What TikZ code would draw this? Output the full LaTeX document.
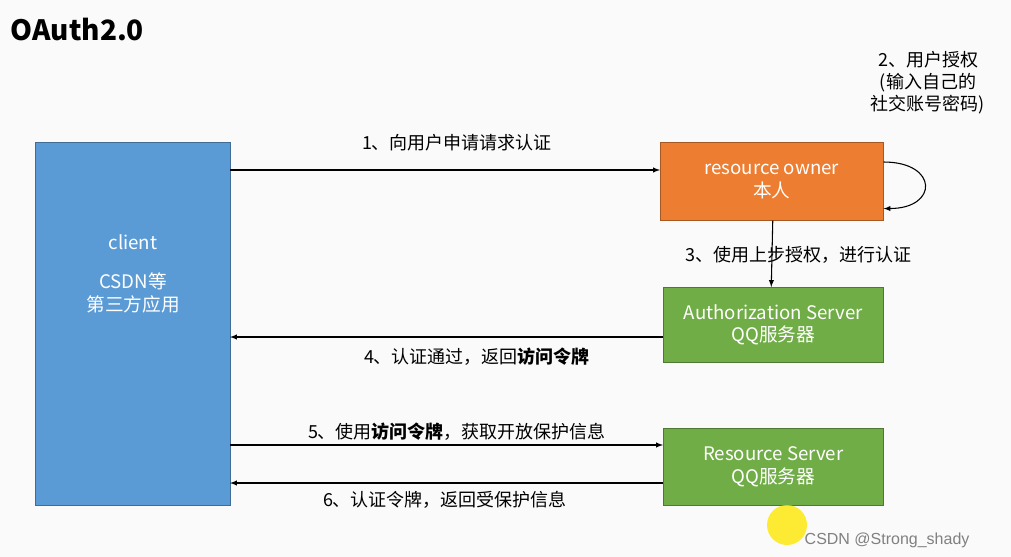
\documentclass[tikz,border=0pt]{standalone}
\usepackage{fontspec}
\setmainfont{Noto Sans CJK SC}
\newfontfamily\lat{Liberation Sans}
\begin{document}
\begin{tikzpicture}[x=0.75pt,y=-0.75pt,
  box/.style={draw=#1!70!black,fill=#1,text=white,font=\fontsize{14}{17}\selectfont,align=center,inner sep=0pt,anchor=north west},
  lab/.style={font=\fontsize{13.5}{16.5}\selectfont,text=black,align=center},
  arr/.style={-latex,thick}]
\useasboundingbox[fill=white!96!gray] (0,0) rectangle (1011,557);
\definecolor{cblue}{HTML}{5B9BD5}\definecolor{corange}{HTML}{ED7D31}\definecolor{cgreen}{HTML}{70AD47}
\node[font=\fontsize{21}{24}\selectfont\bfseries,anchor=west] (title) at (6,30) {OAuth2.0};
\node[box=cblue,minimum width=195*0.75pt,minimum height=363*0.75pt] (client) at (35,142) {};
\node[text=white,align=center,font=\fontsize{14}{17}\selectfont] (ct) at (133,274) {client\\[12pt]CSDN等\\第三方应用};
\node[box=corange,minimum width=223*0.75pt,minimum height=78*0.75pt] (ro) at (660,142) {resource owner\\本人};
\node[box=cgreen,minimum width=220*0.75pt,minimum height=75*0.75pt] (as) at (663,287) {Authorization Server\\QQ服务器};
\node[box=cgreen,minimum width=220*0.75pt,minimum height=77*0.75pt] (rs) at (663,428) {Resource Server\\QQ服务器};
\coordinate (c1) at (230,170);\coordinate (c4) at (230,337);\coordinate (c5) at (230,445);\coordinate (c6) at (230,483);
\draw[arr] (c1) -- (c1 -| ro.west);
\node[lab] (l1) at (457,143) {1、向用户申请请求认证};
\draw[arr] ([yshift=-20*0.75pt]ro.north east) .. controls +(55,0) and +(55,0) .. ([yshift=12*0.75pt]ro.south east);
\node[lab] (l2) at (928,83) {2、用户授权\\(输入自己的\\社交账号密码)};
\draw[arr] ([xshift=1*0.75pt]ro.south) -- ([xshift=-2*0.75pt]as.north);
\node[lab] (l3) at (798,255) {3、使用上步授权，进行认证};
\draw[arr] (c4 -| as.west) -- (c4);
\node[lab] (l4) at (477,357) {4、认证通过，返回\textbf{访问令牌}};
\draw[arr] (c5) -- (c5 -| rs.west);
\node[lab] (l5) at (457,432) {5、使用\textbf{访问令牌}，获取开放保护信息};
\draw[arr] (c6 -| rs.west) -- (c6);
\node[lab] (l6) at (445,500) {6、认证令牌，返回受保护信息};
\fill[yellow!90!orange,opacity=0.8] (787,525) circle (20);
\node[text=gray,font=\fontsize{12}{14}\selectfont\lat,anchor=west] (wm) at (800,540) {CSDN @Strong\_shady};
\end{tikzpicture}
\end{document}
